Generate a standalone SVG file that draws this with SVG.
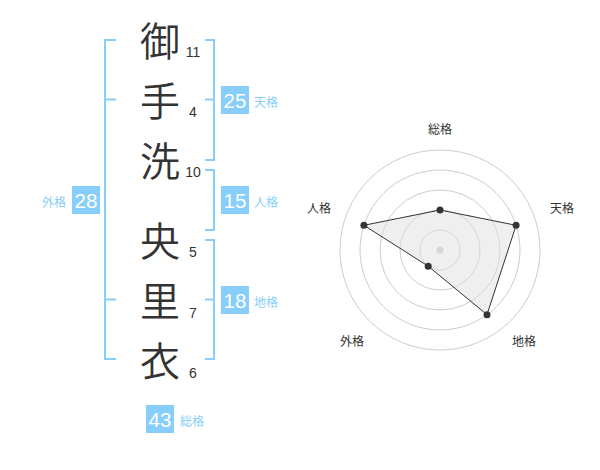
<svg xmlns="http://www.w3.org/2000/svg" width="600" height="470" viewBox="0 0 600 470">
<style>
.kanji{font-family:"Noto Sans CJK JP","Noto Sans CJK SC",sans-serif;font-size:40px;font-weight:350;fill:#333;text-anchor:middle}
.num{font-family:"Liberation Sans",Arial,sans-serif;font-size:14px;fill:#333;text-anchor:middle}
.br{fill:none;stroke:#87cefa;stroke-width:2}
.box{fill:#87cefa}
.bnum{font-family:"Liberation Sans",Arial,sans-serif;font-size:20.5px;fill:#fff;text-anchor:middle}
.lab{font-family:"Noto Sans CJK JP","Noto Sans CJK SC",sans-serif;font-size:12px;fill:#87cefa}
.rlab{font-family:"Noto Sans CJK JP","Noto Sans CJK SC",sans-serif;font-size:12px;fill:#333;text-anchor:middle}
.ring{fill:none;stroke:#ccc;stroke-width:1}
.pt{fill:#333}
</style>
<rect width="600" height="470" fill="#fff"/>
<g id="name">
<text class="kanji" x="160" y="56">御</text>
<text class="kanji" x="160" y="116">手</text>
<text class="kanji" x="160" y="176">洗</text>
<text class="kanji" x="160" y="256">央</text>
<text class="kanji" x="160" y="316">里</text>
<text class="kanji" x="160" y="376">衣</text>
<text class="num" x="193" y="57">11</text>
<text class="num" x="193" y="117">4</text>
<text class="num" x="193" y="177">10</text>
<text class="num" x="193" y="257">5</text>
<text class="num" x="193" y="318">7</text>
<text class="num" x="193" y="378">6</text>
</g>
<g id="connectors">
<path class="br" d="M116 40H105V359H116M105 99.5H116M105 299.5H116"/>
<path class="br" d="M205 40H214V160H205M214 99.5H205"/>
<path class="br" d="M205 170H214V230H205"/>
<path class="br" d="M205 240H214V359H205M214 299.5H205"/>
</g>
<g id="tenkaku">
<rect class="box" x="221" y="86" width="28" height="28"/>
<text class="bnum" x="235" y="108">25</text>
<text class="lab" x="254" y="107">天格</text>
</g>
<g id="jinkaku">
<rect class="box" x="221" y="186" width="28" height="28"/>
<text class="bnum" x="235" y="208">15</text>
<text class="lab" x="254" y="207">人格</text>
</g>
<g id="chikaku">
<rect class="box" x="221" y="286" width="28" height="28"/>
<text class="bnum" x="235" y="308">18</text>
<text class="lab" x="254" y="307">地格</text>
</g>
<g id="gaikaku">
<rect class="box" x="72" y="186" width="28" height="28"/>
<text class="bnum" x="86" y="208">28</text>
<text class="lab" x="66" y="207" text-anchor="end">外格</text>
</g>
<g id="soukaku">
<rect class="box" x="146" y="405" width="28" height="28"/>
<text class="bnum" x="160" y="427">43</text>
<text class="lab" x="180" y="426">総格</text>
</g>
<g id="radar">
<circle class="ring" cx="440" cy="250" r="20"/>
<circle class="ring" cx="440" cy="250" r="40"/>
<circle class="ring" cx="440" cy="250" r="60"/>
<circle class="ring" cx="440" cy="250" r="80"/>
<circle class="ring" cx="440" cy="250" r="100"/>
<circle cx="440" cy="250" r="3.5" fill="#ccc"/>
<polygon points="440,210 516.1,225.3 487,314.7 428.2,266.2 363.9,225.3" fill="#e0e0e0" fill-opacity="0.5" stroke="#333" stroke-width="1"/>
<circle class="pt" cx="440" cy="210" r="3.5"/>
<circle class="pt" cx="516.1" cy="225.3" r="3.5"/>
<circle class="pt" cx="487" cy="314.7" r="3.5"/>
<circle class="pt" cx="428.2" cy="266.2" r="3.5"/>
<circle class="pt" cx="363.9" cy="225.3" r="3.5"/>
<text class="rlab" x="440" y="134">総格</text>
<text class="rlab" x="562" y="213">天格</text>
<text class="rlab" x="524" y="346">地格</text>
<text class="rlab" x="352" y="346">外格</text>
<text class="rlab" x="319" y="213">人格</text>
</g>
</svg>
